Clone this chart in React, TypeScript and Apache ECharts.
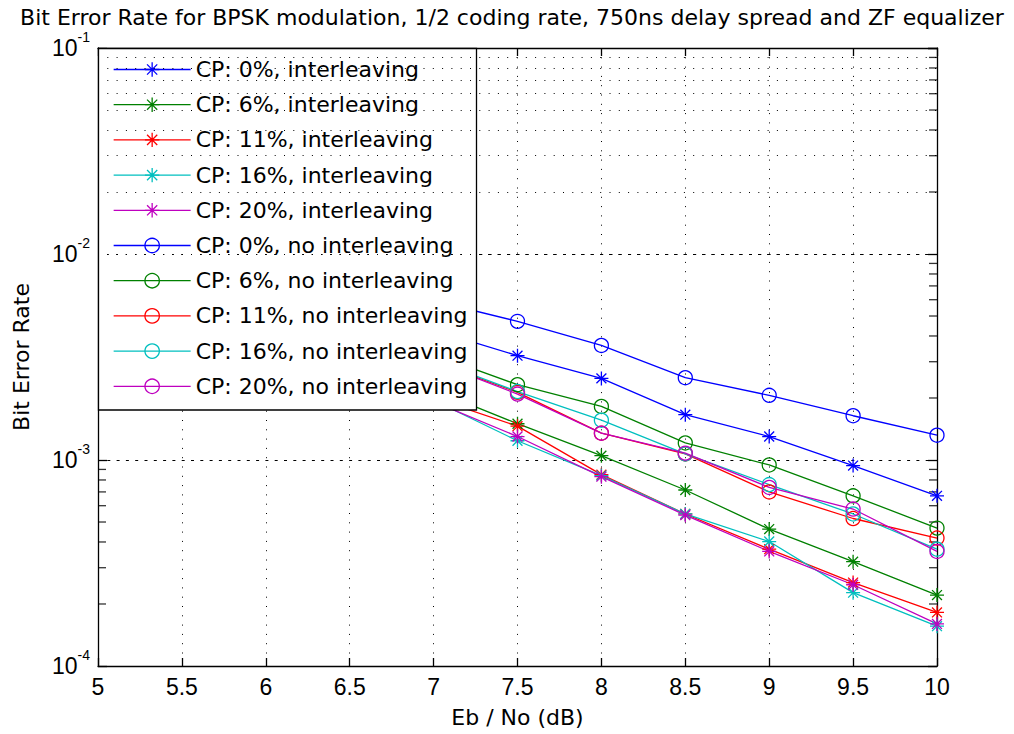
import React, { useEffect, useRef } from "react";
import * as echarts from "echarts";

const ebno = [5.5, 6, 6.5, 7, 7.5, 8, 8.5, 9, 9.5, 10];

const berInt0 = [8.3e-3, 6.8e-3, 5.4e-3, 4.27e-3, 3.21e-3, 2.49e-3, 1.66e-3, 1.3e-3, 9.4e-4, 6.7e-4];
const berInt6 = [5.6e-3, 4.2e-3, 3.0e-3, 2.19e-3, 1.5e-3, 1.05e-3, 7.15e-4, 4.62e-4, 3.21e-4, 2.21e-4];
const berInt11 = [5.4e-3, 3.9e-3, 2.8e-3, 2.0e-3, 1.46e-3, 8.49e-4, 5.47e-4, 3.69e-4, 2.54e-4, 1.82e-4];
const berInt16 = [5.2e-3, 3.8e-3, 2.7e-3, 1.95e-3, 1.24e-3, 8.4e-4, 5.47e-4, 4.02e-4, 2.27e-4, 1.56e-4];
const berInt20 = [5.3e-3, 3.8e-3, 2.7e-3, 1.92e-3, 1.3e-3, 8.3e-4, 5.4e-4, 3.6e-4, 2.48e-4, 1.6e-4];
const berNoInt0 = [1.05e-2, 8.9e-3, 7.3e-3, 5.93e-3, 4.71e-3, 3.6e-3, 2.51e-3, 2.06e-3, 1.64e-3, 1.32e-3];
const berNoInt6 = [7.0e-3, 5.6e-3, 4.3e-3, 3.26e-3, 2.32e-3, 1.82e-3, 1.21e-3, 9.46e-4, 6.7e-4, 4.67e-4];
const berNoInt11 = [6.5e-3, 5.1e-3, 3.9e-3, 3.0e-3, 2.13e-3, 1.35e-3, 1.07e-3, 7.0e-4, 5.2e-4, 4.18e-4];
const berNoInt16 = [6.6e-3, 5.2e-3, 4.0e-3, 3.05e-3, 2.15e-3, 1.56e-3, 1.07e-3, 7.6e-4, 5.47e-4, 3.69e-4];
const berNoInt20 = [6.4e-3, 5.0e-3, 3.9e-3, 3.0e-3, 2.09e-3, 1.35e-3, 1.08e-3, 7.36e-4, 5.78e-4, 3.6e-4];

const seriesNames = [
  "CP: 0%, interleaving",
  "CP: 6%, interleaving",
  "CP: 11%, interleaving",
  "CP: 16%, interleaving",
  "CP: 20%, interleaving",
  "CP: 0%, no interleaving",
  "CP: 6%, no interleaving",
  "CP: 11%, no interleaving",
  "CP: 16%, no interleaving",
  "CP: 20%, no interleaving",
];
const seriesValues = [berInt0, berInt6, berInt11, berInt16, berInt20, berNoInt0, berNoInt6, berNoInt11, berNoInt16, berNoInt20];
const seriesColors = ["#0000ff", "#008000", "#ff0000", "#00bfbf", "#bf00bf", "#0000ff", "#008000", "#ff0000", "#00bfbf", "#bf00bf"];
const seriesMarkers = ["star", "star", "star", "star", "star", "circle", "circle", "circle", "circle", "circle"];

const xMin = 5;
const xMax = 10;
const minorMultipliers = [2, 3, 4, 5, 6, 7, 8, 9];
const decadeExponents = [-4, -3, -2];

const titleText = "Bit Error Rate for BPSK modulation, 1/2 coding rate, 750ns delay spread and ZF equalizer";
const xName = "Eb / No (dB)";
const yName = "Bit Error Rate";

const FONT = "DejaVu Sans, Liberation Sans, sans-serif";
const TICKFONT = "Liberation Sans, Arial, sans-serif";
const STAR = "path://M0,-10L0,10M-10,0L10,0M-7.07,-7.07L7.07,7.07M-7.07,7.07L7.07,-7.07";

export default function App() {
  const ref = useRef<HTMLDivElement>(null);

  useEffect(() => {
    if (!ref.current) return;
    const chart = echarts.init(ref.current, undefined, { renderer: "svg" });

    const minorValues: number[] = [];
    decadeExponents.forEach((e) => minorMultipliers.forEach((m) => minorValues.push(m * Math.pow(10, e))));

    const tickData: any[] = [];
    minorValues.forEach((v) => {
      tickData.push({ value: [xMin, v], symbolOffset: [4, 0] });
      tickData.push({ value: [xMax, v], symbolOffset: [-4, 0] });
    });

    const lineSeries = seriesNames.map((name, i) => {
      const star = seriesMarkers[i] === "star";
      return {
        name,
        type: "line",
        z: 2,
        data: ebno.map((x, j) => [x, seriesValues[i][j]]),
        symbol: star ? STAR : "circle",
        symbolSize: 14,
        showAllSymbol: true,
        lineStyle: { color: seriesColors[i], width: 1.3 },
        itemStyle: star
          ? { color: seriesColors[i], borderColor: seriesColors[i], borderWidth: 1.3 }
          : { color: "rgba(0,0,0,0)", borderColor: seriesColors[i], borderWidth: 1.3 },
        emphasis: { disabled: true },
        silent: true,
      };
    });

    const option: any = {
      animation: false,
      backgroundColor: "#ffffff",
      textStyle: { fontFamily: FONT },
      title: {
        text: titleText,
        left: 512,
        textAlign: "center",
        top: 6,
        padding: 0,
        textStyle: { fontFamily: FONT, fontSize: 22, fontWeight: "normal", color: "#000", lineHeight: 22 },
      },
      grid: { left: 98, top: 48, right: 77, bottom: 68, containLabel: false },
      xAxis: [
        {
          type: "value",
          min: xMin,
          max: xMax,
          interval: 0.5,
          name: xName,
          nameLocation: "middle",
          nameGap: 40,
          nameTextStyle: { fontFamily: FONT, fontSize: 22, color: "#000" },
          axisLine: { show: true, onZero: false, lineStyle: { color: "#000", width: 1.3 } },
          axisTick: { show: true, inside: true, length: 8, lineStyle: { color: "#000", width: 1.3 } },
          axisLabel: {
            show: true,
            margin: 9,
            fontFamily: TICKFONT,
            fontSize: 23,
            color: "#000",
            formatter: (v: number) => String(v),
          },
          splitLine: { show: true, lineStyle: { color: "#000", width: 1, type: [1, 8.3] } },
        },
        {
          type: "value",
          min: xMin,
          max: xMax,
          interval: 0.5,
          position: "top",
          axisLine: { show: true, onZero: false, lineStyle: { color: "#000", width: 1.3 } },
          axisTick: { show: true, inside: true, length: 8, lineStyle: { color: "#000", width: 1.3 } },
          axisLabel: { show: false },
          splitLine: { show: false },
        },
      ],
      yAxis: [
        {
          type: "log",
          logBase: 10,
          min: 1e-4,
          max: 1e-1,
          name: yName,
          nameLocation: "middle",
          nameGap: 66,
          nameRotate: 90,
          nameTextStyle: { fontFamily: FONT, fontSize: 22, color: "#000" },
          axisLine: { show: true, onZero: false, lineStyle: { color: "#000", width: 1.3 } },
          axisTick: { show: true, inside: true, length: 9, lineStyle: { color: "#000", width: 1.3 } },
          axisLabel: {
            show: true,
            margin: 8,
            formatter: (v: number) => `{b|10}{s|${Math.round(Math.log10(v))}}`,
            rich: {
              b: { fontFamily: TICKFONT, fontSize: 23, color: "#000" },
              s: { fontFamily: TICKFONT, fontSize: 14, color: "#000", lineHeight: 12, padding: [0, 0, 22, 0] },
            },
          },
          splitLine: { show: true, lineStyle: { color: "#000", width: 1, type: [3, 6.3] } },
        },
        {
          type: "log",
          logBase: 10,
          min: 1e-4,
          max: 1e-1,
          position: "right",
          axisLine: { show: true, onZero: false, lineStyle: { color: "#000", width: 1.3 } },
          axisTick: { show: true, inside: true, length: 9, lineStyle: { color: "#000", width: 1.3 } },
          axisLabel: { show: false },
          splitLine: { show: false },
        },
      ],
      legend: {
        data: seriesNames,
        orient: "vertical",
        left: 113,
        top: 58.5,
        padding: 0,
        itemGap: 13.2,
        itemWidth: 77,
        itemHeight: 18,
        z: 5,
        selectedMode: false,
        textStyle: { fontFamily: FONT, fontSize: 22, color: "#000" },
        lineStyle: { width: 1.3 },
        itemStyle: { borderWidth: 1.3 },
      },
      graphic: [
        {
          type: "rect",
          z: 3,
          silent: true,
          shape: { x: 98.5, y: 48.5, width: 378, height: 361.5 },
          style: { fill: "#ffffff", stroke: "#000000", lineWidth: 1.3 },
        },
      ],
      series: [
        {
          name: "minor-ticks",
          type: "scatter",
          z: 1,
          silent: true,
          data: tickData,
          symbol: "rect",
          symbolSize: [8, 1.3],
          itemStyle: { color: "#000" },
          emphasis: { disabled: true },
          markLine: {
            silent: true,
            symbol: ["none", "none"],
            label: { show: false },
            emphasis: { disabled: true },
            lineStyle: { color: "#000", width: 1, type: [1, 8.3] },
            data: minorValues.map((v) => ({ yAxis: v })),
          },
        },
        ...lineSeries,
      ],
    };

    chart.setOption(option);
    return () => chart.dispose();
  }, []);

  return (
    <div
      ref={ref}
      style={{ position: "fixed", left: 0, top: 0, width: 1014, height: 734, background: "#fff" }}
    />
  );
}
